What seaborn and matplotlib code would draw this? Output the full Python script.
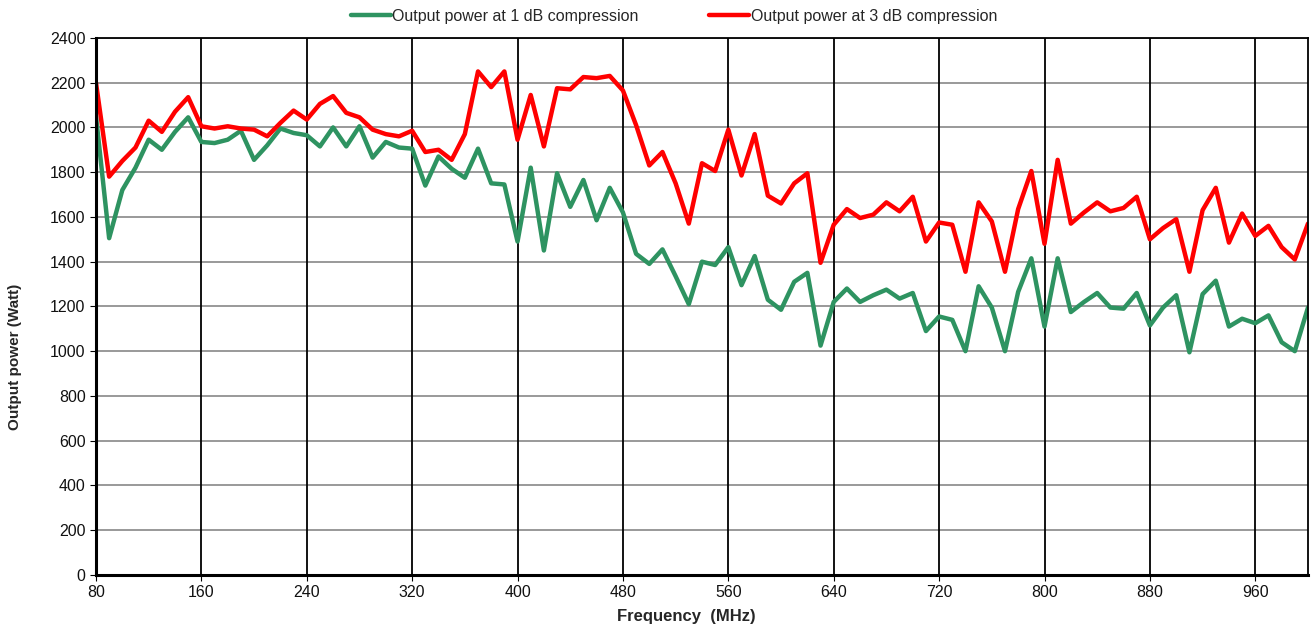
import numpy as np
import pandas as pd
import matplotlib
matplotlib.use("Agg")
import matplotlib.pyplot as plt
import seaborn as sns

# Frequência em MHz, um ponto a cada 10 MHz
freq = list(range(80, 1001, 10))

# Potência de saída (W) na compressão de 1 dB
p1db = [
    2050, 1505, 1720, 1820, 1945, 1900, 1980, 2045, 1935, 1930,
    1945, 1985, 1855, 1920, 1995, 1975, 1965, 1915, 2000, 1915,
    2005, 1865, 1935, 1910, 1905, 1740, 1870, 1815, 1775, 1905,
    1750, 1745, 1490, 1820, 1450, 1795, 1645, 1765, 1585, 1730,
    1620, 1435, 1390, 1455, 1335, 1210, 1400, 1385, 1465, 1295,
    1425, 1230, 1185, 1310, 1350, 1025, 1220, 1280, 1220, 1250,
    1275, 1235, 1260, 1090, 1155, 1140, 1000, 1290, 1195, 1000,
    1265, 1415, 1110, 1415, 1175, 1220, 1260, 1195, 1190, 1260,
    1115, 1195, 1250, 995, 1255, 1315, 1110, 1145, 1125, 1160,
    1040, 1000, 1195,
]

# Potência de saída (W) na compressão de 3 dB
p3db = [
    2200, 1780, 1850, 1910, 2030, 1980, 2070, 2135, 2005, 1995,
    2005, 1995, 1990, 1960, 2020, 2075, 2035, 2105, 2140, 2065,
    2045, 1990, 1970, 1960, 1985, 1890, 1900, 1855, 1970, 2250,
    2180, 2250, 1945, 2145, 1915, 2175, 2170, 2225, 2220, 2230,
    2165, 2010, 1830, 1890, 1750, 1570, 1840, 1805, 1990, 1785,
    1970, 1695, 1660, 1750, 1795, 1395, 1565, 1635, 1595, 1610,
    1665, 1625, 1690, 1490, 1575, 1565, 1355, 1665, 1580, 1355,
    1635, 1805, 1480, 1855, 1570, 1620, 1665, 1625, 1640, 1690,
    1500, 1550, 1590, 1355, 1630, 1730, 1485, 1615, 1515, 1560,
    1465, 1410, 1570,
]

series_names = ["Output power at 1 dB compression", "Output power at 3 dB compression"]
colors = ["#2e9361", "#ff0000"]

df = pd.DataFrame({
    "freq": freq * 2,
    "power": p1db + p3db,
    "serie": [series_names[0]] * len(freq) + [series_names[1]] * len(freq),
})

sns.set_style("white")
plt.rcParams["font.family"] = ["Liberation Sans", "DejaVu Sans"]

fig = plt.figure(figsize=(13.11, 6.26), dpi=100)
ax = fig.add_axes([0.0732, 0.0815, 0.9245, 0.858])

sns.lineplot(data=df, x="freq", y="power", hue="serie",
             palette=dict(zip(series_names, colors)), linewidth=3.2, ax=ax)

ax.set_xlim(80, 1000)
ax.set_ylim(0, 2400)
ax.set_xticks(np.arange(80, 1000, 80))
ax.set_yticks(np.arange(0, 2401, 200))
ax.tick_params(axis="both", labelsize=11.5, length=4, direction="out",
               left=True, bottom=True, color="black", labelcolor="#111111")

# Grade: verticais pretas, horizontais cinza
for x in np.arange(160, 1000, 80):
    ax.axvline(x, color="black", linewidth=1.3, zorder=1)
for y in np.arange(200, 2401, 200):
    ax.axhline(y, color="#888888", linewidth=1.2, zorder=0)

for side in ["left", "bottom"]:
    ax.spines[side].set_linewidth(2.2)
for side in ["top", "right"]:
    ax.spines[side].set_linewidth(1.3)
for s in ax.spines.values():
    s.set_color("black")

ax.set_xlabel("Frequency  (MHz)", fontsize=12, fontweight="bold")
ax.set_ylabel("Output power (Watt)", fontsize=11, fontweight="bold")
ax.xaxis.set_label_coords(0.487, -0.063)
ax.yaxis.set_label_coords(-0.061, 0.406)

ax.legend(loc="center", bbox_to_anchor=(0.514, 0.974), bbox_transform=fig.transFigure,
          ncol=2, frameon=False, fontsize=11.5, handlelength=2.5, handletextpad=0.1,
          columnspacing=4.4)

fig.savefig("out.png", dpi=100)
